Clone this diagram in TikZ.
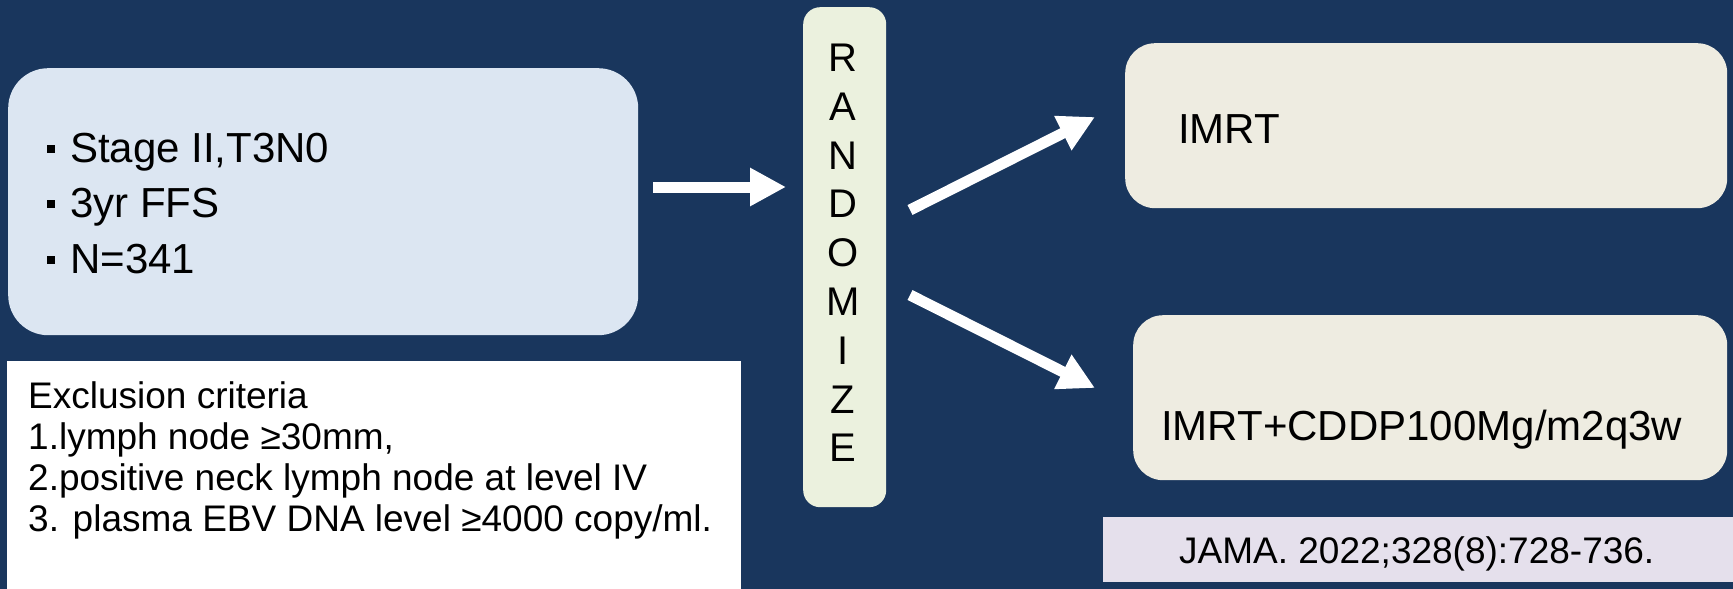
\documentclass[tikz,border=0pt]{standalone}
\usepackage{fontspec}
\setmainfont{Liberation Sans}
\usetikzlibrary{arrows.meta}

\definecolor{navy}{RGB}{25,54,93}
\definecolor{paleblue}{RGB}{220,230,242}
\definecolor{palegreen}{RGB}{235,241,222}
\definecolor{paletan}{RGB}{238,236,225}
\definecolor{lavender}{RGB}{229,224,236}

\tikzset{
  panel/.style={anchor=north west, inner sep=0pt, rounded corners=#1},
  panel/.default=30pt,
  bigarrow/.style={draw=white, line width=11pt, -{Triangle[length=36pt,width=36pt]}},
  sq/.style={fill=black, inner sep=0pt, minimum size=8pt},
  big/.style={font=\fontsize{42}{50}\selectfont, inner sep=0pt, anchor=base west},
  small/.style={font=\fontsize{37}{41}\selectfont, inner sep=0pt}
}

\begin{document}
\begin{tikzpicture}[x=1pt,y=-1pt]
% slide background
\fill[navy] (0,0) rectangle (1733,589);
\useasboundingbox (0,0) rectangle (1733,589);

% boxes
\node[panel=40pt, fill=paleblue, minimum width=630pt, minimum height=267pt] (pop) at (8,68) {};
\node[panel=0pt, fill=white, minimum width=734pt, minimum height=230pt] (crit) at (7,361) {};
\node[panel=17pt, fill=palegreen, minimum width=83pt, minimum height=500pt] (rand) at (803,7) {};
\node[panel, fill=paletan, minimum width=602pt, minimum height=165pt] (armA) at (1125,43) {};
\node[panel, fill=paletan, minimum width=594pt, minimum height=165pt] (armB) at (1133,315) {};
\node[panel=0pt, fill=lavender, minimum width=630pt, minimum height=65pt] (ref) at (1103,517) {};

% arrows
\coordinate (h0) at (653,187);
\draw[bigarrow, shorten >=17pt] (h0) -- (h0 -| rand.west);
\coordinate (up0) at (910,210); \coordinate (up1) at (1095,117);
\draw[bigarrow] (up0) -- (up1);
\coordinate (dn0) at (910,295); \coordinate (dn1) at (1095,388);
\draw[bigarrow] (dn0) -- (dn1);

% population
\node[sq] (q1) at (51,149) {}; \node[big] (s1) at (70,162) {Stage II,T3N0};
\node[sq] (q2) at (51,204) {}; \node[big] (s2) at (70,217) {3yr FFS};
\node[sq] (q3) at (51,260) {}; \node[big] (s3) at (70,273) {N=341};

\node[small, anchor=north west, align=left] (critext) at (28,381)
  {Exclusion criteria\\1.lymph node ≥30mm,\\2.positive neck lymph node at level IV\\3. plasma EBV DNA level ≥4000 copy/ml.};

\node[font=\fontsize{40}{48.8}\selectfont, inner sep=0pt, align=center] (randtext) at (843,253)
  {R\\A\\N\\D\\O\\M\\I\\Z\\E};

% treatment arms
\node[big] (a1) at (1178,143) {IMRT};
\node[big] (a2) at (1161,440) {IMRT+CDDP100Mg/m2q3w};

\node[small, anchor=base west] (jama) at (1179,563) {JAMA. 2022;328(8):728-736.};

\end{tikzpicture}
\end{document}
